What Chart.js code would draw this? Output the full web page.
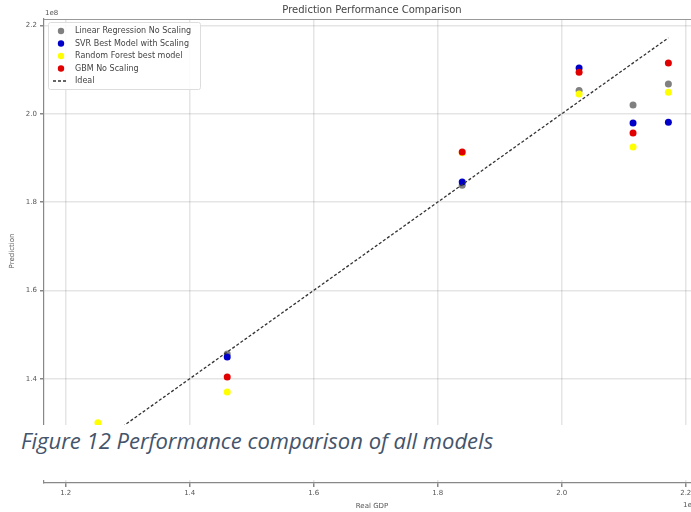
<!DOCTYPE html>
<html>
<head>
<meta charset="utf-8">
<script src="https://cdn.jsdelivr.net/npm/chart.js@4"></script>
<style>
html, body { margin: 0; padding: 0; background: #fff; overflow: hidden; width: 691px; height: 512px; }
#wrap { position: relative; width: 691px; height: 512px; overflow: hidden; }
canvas { position: absolute; left: 0; top: 0; }
#caption { position: absolute; left: 0; top: 425px; width: 691px; height: 55px; background: #fff; }
#caption span { position: absolute; left: 21px; top: 0px; font: italic 22px "Open Sans", Lato, sans-serif; color: #44546A; white-space: nowrap; }
</style>
</head>
<body>
<div id="wrap">
  <canvas id="c" width="720" height="512"></canvas>
  <div id="caption"><span>Figure 12 Performance comparison of all models</span></div>
</div>
<script>
// werte in 1e8
const realGdp    = [1.252, 1.4605, 1.8395, 2.028, 2.115, 2.172];
const linearPred = [1.270, 1.456, 1.838, 2.053, 2.020, 2.0675];
const svrPred    = [1.260, 1.449, 1.8455, 2.104, 1.979, 1.981];
const rfPred     = [1.300, 1.370, 1.912, 2.045, 1.925, 2.049];
const gbmPred    = [1.280, 1.404, 1.9135, 2.094, 1.9565, 2.115];
const xTicks = [1.2, 1.4, 1.6, 1.8, 2.0, 2.2];
const yTicks = [1.2, 1.4, 1.6, 1.8, 2.0, 2.2];
const titleText = 'Prediction Performance Comparison';

const pts = arr => realGdp.map((x, i) => ({ x, y: arr[i] }));
const lo = Math.min(...realGdp), hi = Math.max(...realGdp);

const series = [
  { label: 'Linear Regression No Scaling', data: pts(linearPred), color: '#808080', order: 4 },
  { label: 'SVR Best Model with Scaling', data: pts(svrPred), color: '#0000c8', order: 3 },
  { label: 'Random Forest best model', data: pts(rfPred), color: '#ffff00', order: 2 },
  { label: 'GBM No Scaling', data: pts(gbmPred), color: '#e00000', order: 1 }
];

const datasets = series.map(s => ({
  label: s.label,
  data: s.data,
  backgroundColor: s.color,
  borderWidth: 0,
  pointRadius: 3.5,
  order: s.order
}));
datasets.push({
  label: 'Ideal',
  data: [{ x: lo, y: lo }, { x: hi, y: hi }],
  showLine: true,
  borderColor: '#333',
  borderWidth: 1.3,
  borderDash: [3, 2],
  pointRadius: 0,
  order: 0
});

// titel, 1e8, legende, obere kante
const extras = {
  id: 'extras',
  afterDraw(chart) {
    const ctx = chart.ctx, a = chart.chartArea;
    ctx.save();
    ctx.strokeStyle = '#999';
    ctx.lineWidth = 1.2;
    ctx.beginPath();
    ctx.moveTo(a.left, a.top + 0.5);
    ctx.lineTo(a.right, a.top + 0.5);
    ctx.stroke();

    ctx.fillStyle = '#444';
    ctx.font = '10px "DejaVu Sans"';
    ctx.textAlign = 'center';
    ctx.textBaseline = 'middle';
    ctx.fillText(titleText, (a.left + a.right) / 2, 10);

    ctx.font = '7px "DejaVu Sans"';
    ctx.fillStyle = '#555';
    ctx.textAlign = 'left';
    ctx.fillText('1e8', a.left + 1, 13);
    ctx.fillText('1e8', 683, 505);

    // legende
    const bx = 48, by = 22, bw = 152, bh = 67;
    ctx.fillStyle = 'rgba(255,255,255,0.85)';
    ctx.strokeStyle = '#ddd';
    ctx.lineWidth = 1;
    ctx.beginPath();
    ctx.roundRect(bx + 0.5, by + 0.5, bw, bh, 2);
    ctx.fill();
    ctx.stroke();
    ctx.font = '8px "DejaVu Sans"';
    ctx.textBaseline = 'middle';
    chart.data.datasets.forEach((ds, i) => {
      const y = 31 + i * 12.5;
      if (ds.showLine) {
        ctx.strokeStyle = ds.borderColor;
        ctx.lineWidth = 1.3;
        ctx.setLineDash([3, 2]);
        ctx.beginPath();
        ctx.moveTo(53, y);
        ctx.lineTo(68, y);
        ctx.stroke();
        ctx.setLineDash([]);
      } else {
        ctx.fillStyle = ds.backgroundColor;
        ctx.beginPath();
        ctx.arc(61, y, 3.2, 0, Math.PI * 2);
        ctx.fill();
      }
      ctx.fillStyle = '#444';
      ctx.fillText(ds.label, 75, y);
    });
    ctx.restore();
  }
};

new Chart(document.getElementById('c').getContext('2d'), {
  type: 'scatter',
  data: { datasets },
  options: {
    responsive: false,
    animation: false,
    events: [],
    layout: { padding: { top: 19, right: 20, left: 0, bottom: 0 } },
    plugins: { legend: { display: false }, tooltip: { enabled: false }, title: { display: false } },
    scales: {
      x: {
        type: 'linear',
        min: 1.165,
        max: 2.223,
        afterBuildTicks: s => { s.ticks = xTicks.map(v => ({ value: v })); },
        afterFit: s => { s.height = 29; },
        ticks: {
          callback: v => v.toFixed(1),
          font: { size: 7, family: 'DejaVu Sans' },
          color: '#555',
          padding: 2,
          maxRotation: 0,
          autoSkip: false
        },
        grid: { color: 'rgba(0,0,0,0.1)', lineWidth: 1.5, tickColor: '#888', tickLength: 4 },
        border: { color: '#888', width: 1.2 },
        title: { display: true, text: 'Real GDP', font: { size: 7, family: 'DejaVu Sans' }, color: '#555', padding: { top: 0, bottom: 2 } }
      },
      y: {
        type: 'linear',
        min: 1.1638,
        max: 2.2147,
        afterBuildTicks: s => { s.ticks = yTicks.map(v => ({ value: v })); },
        afterFit: s => { s.width = 44; },
        ticks: {
          callback: v => v.toFixed(1),
          font: { size: 7, family: 'DejaVu Sans' },
          color: '#555',
          padding: 3,
          autoSkip: false
        },
        grid: { color: 'rgba(0,0,0,0.1)', lineWidth: 1.5, tickColor: '#888', tickLength: 4 },
        border: { color: '#888', width: 1.2 },
        title: { display: true, text: 'Prediction', font: { size: 7, family: 'DejaVu Sans' }, color: '#555', padding: { top: 8, bottom: 0 } }
      }
    }
  },
  plugins: [extras]
});
</script>
</body>
</html>
